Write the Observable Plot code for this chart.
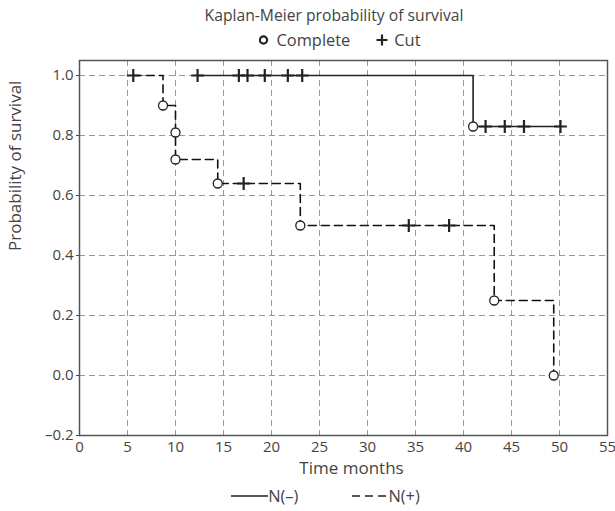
<!DOCTYPE html>
<html>
<head>
<meta charset="utf-8">
<script src="https://cdn.jsdelivr.net/npm/d3@7"></script>
<script src="https://cdn.jsdelivr.net/npm/@observablehq/plot@0.6"></script>
<style>
  body { margin: 0; background: #fff; font-family: "Open Sans", sans-serif; color: #444; }
  #wrap { width: 615px; height: 511px; overflow: hidden; }
  .title { height: 28px; padding-top: 2px; line-height: 26px; text-align: center; font-size: 15.7px; padding-left: 53px; box-sizing: border-box; }
  .leg { width: 615px; display: flex; justify-content: center; align-items: center; font-size: 16.4px; box-sizing: border-box; }
  .leg span { display: inline-flex; align-items: center; }
  #chart { height: 428px; }
  #chart svg { display: block; }
  #chart svg [aria-label*="axis"] text { font-size: 15px; fill: #444; }
</style>
</head>
<body>
<div id="wrap">
  <div class="title">Kaplan-Meier probability of survival</div>
  <div class="leg" style="height:24px; line-height:24px; padding-left:64px; gap:26px;">
    <span><svg width="18" height="14"><circle cx="4.5" cy="7" r="3.6" fill="none" stroke="#222" stroke-width="2.2"/></svg>Complete</span>
    <span><svg width="18" height="14"><path d="M0.5,7H11.5M6,1.5V12.5" stroke="#222" stroke-width="2.2"/></svg>Cut</span>
  </div>
  <div id="chart"></div>
  <div class="leg" style="height:31px; line-height:44px; padding-left:36px; gap:54px;">
    <span><svg width="37" height="10"><line x1="0" y1="5" x2="37" y2="5" stroke="#222" stroke-width="1.6"/></svg>N(–)</span>
    <span><svg width="36" height="10"><line x1="0" y1="5" x2="36" y2="5" stroke="#222" stroke-width="1.6" stroke-dasharray="8,5"/></svg>N(+)</span>
  </div>
</div>
<script>
// N(−) group
const negStepTime = [12.3, 41.0, 50.1];
const negStepSurv = [1.0, 0.83, 0.83];
const negCompleteTime = [41.0];
const negCompleteSurv = [0.83];
const negCutTime = [12.3, 16.6, 17.5, 19.3, 21.7, 23.2, 42.3, 44.3, 46.3, 50.1];
const negCutSurv = [1.0, 1.0, 1.0, 1.0, 1.0, 1.0, 0.83, 0.83, 0.83, 0.83];
// N(+) group
const posStepTime = [5.6, 8.7, 10.0, 14.4, 23.0, 43.2, 49.4];
const posStepSurv = [1.0, 0.9, 0.72, 0.64, 0.5, 0.25, 0.0];
const posCompleteTime = [8.7, 10.0, 10.0, 14.4, 23.0, 43.2, 49.4];
const posCompleteSurv = [0.9, 0.81, 0.72, 0.64, 0.5, 0.25, 0.0];
const posCutTime = [5.6, 17.1, 34.3, 38.5];
const posCutSurv = [1.0, 0.64, 0.5, 0.5];
// ticks and labels
const xTicks = [0, 5, 10, 15, 20, 25, 30, 35, 40, 45, 50, 55];
const yTicks = [-0.2, 0.0, 0.2, 0.4, 0.6, 0.8, 1.0];
const xLabel = "Time months";
const yLabel = "Probability of survival";

const zip = (t, s) => t.map((x, i) => ({t: x, s: s[i]}));
const negStep = zip(negStepTime, negStepSurv);
const posStep = zip(posStepTime, posStepSurv);
const negComplete = zip(negCompleteTime, negCompleteSurv);
const posComplete = zip(posCompleteTime, posCompleteSurv);
const negCut = zip(negCutTime, negCutSurv);
const posCut = zip(posCutTime, posCutSurv);

const fmt = d => (d < 0 ? "\u2013" : "") + Math.abs(d).toFixed(1);

const chart = Plot.plot({
  width: 615,
  height: 428,
  marginTop: 8,
  marginBottom: 45,
  marginLeft: 79,
  marginRight: 8,
  style: {fontFamily: "Open Sans, sans-serif", fontSize: "15px", color: "#444", background: "white"},
  x: {domain: [0, 55], ticks: xTicks, tickSize: 0, tickPadding: 6, label: null},
  y: {domain: [-0.2, 1.05], ticks: yTicks, tickSize: 3, tickPadding: 3, tickFormat: fmt, label: null},
  marks: [
    Plot.ruleX(xTicks, {stroke: "#999", strokeOpacity: 1, strokeDasharray: "6,4"}),
    Plot.ruleY(yTicks, {stroke: "#999", strokeOpacity: 1, strokeDasharray: "6,4"}),
    Plot.line(posStep, {x: "t", y: "s", curve: "step-after", stroke: "#111", strokeWidth: 1.6, strokeDasharray: "8,5"}),
    Plot.line(negStep, {x: "t", y: "s", curve: "step-after", stroke: "#222", strokeWidth: 1.6}),
    Plot.dot(posCut, {x: "t", y: "s", symbol: "plus", r: 4.2, stroke: "#222", strokeWidth: 2.2}),
    Plot.dot(negCut, {x: "t", y: "s", symbol: "plus", r: 4.2, stroke: "#222", strokeWidth: 2.2}),
    Plot.dot(posComplete, {x: "t", y: "s", r: 4.5, fill: "white", stroke: "#222", strokeWidth: 1.3}),
    Plot.dot(negComplete, {x: "t", y: "s", r: 4.5, fill: "white", stroke: "#222", strokeWidth: 1.3}),
    Plot.frame({stroke: "#555", strokeWidth: 1.5}),
    Plot.text([xLabel], {frameAnchor: "bottom", lineAnchor: "middle", text: d => d, dy: 33, dx: 8, fontSize: 17, fill: "#444"}),
    Plot.text([yLabel], {frameAnchor: "left", lineAnchor: "middle", text: d => d, dx: -64, dy: 3, rotate: -90, fontSize: 17, fill: "#444"})
  ]
});
document.getElementById("chart").appendChild(chart);
</script>
</body>
</html>
